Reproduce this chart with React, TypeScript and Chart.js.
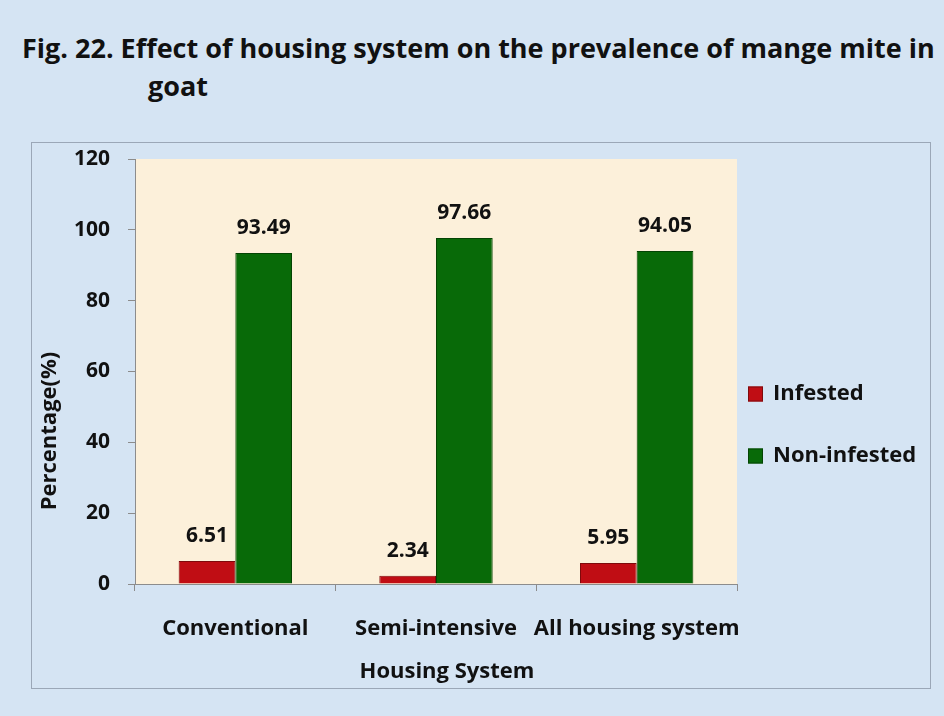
import React, { useEffect, useRef } from "react";
import { Chart, registerables } from "chart.js";

Chart.register(...registerables);

const categories = ["Conventional", "Semi-intensive", "All housing system"];
const infested = [6.51, 2.34, 5.95];
const nonInfested = [93.49, 97.66, 94.05];
const seriesNames = ["Infested", "Non-infested"];
const xTitle = "Housing System";
const yTitle = "Percentage(%)";

const FONT = "'Open Sans', Lato, sans-serif";

const plotBg = {
  id: "plotBg",
  beforeDraw(chart: any) {
    const { ctx, chartArea } = chart;
    ctx.save();
    ctx.fillStyle = "#fcf0da";
    ctx.fillRect(chartArea.left, chartArea.top, chartArea.right - chartArea.left, chartArea.bottom - chartArea.top);
    ctx.restore();
  },
};

const valueLabels = {
  id: "valueLabels",
  afterDatasetsDraw(chart: any) {
    const { ctx } = chart;
    ctx.save();
    ctx.font = `bold 21px ${FONT}`;
    ctx.fillStyle = "#111";
    ctx.textAlign = "center";
    ctx.textBaseline = "middle";
    chart.data.datasets.forEach((ds: any, i: number) => {
      const meta = chart.getDatasetMeta(i);
      meta.data.forEach((bar: any, j: number) => {
        ctx.fillText(Number(ds.data[j]).toFixed(2), bar.x, bar.y - 25);
      });
    });
    ctx.restore();
  },
};

const axisTitles = {
  id: "axisTitles",
  afterDraw(chart: any) {
    const { ctx, chartArea } = chart;
    ctx.save();
    ctx.font = `bold 22px ${FONT}`;
    ctx.fillStyle = "#111";
    ctx.textAlign = "center";
    ctx.textBaseline = "middle";
    ctx.fillText(xTitle, (chartArea.left + chartArea.right) / 2 + 11, chartArea.bottom + 88);
    ctx.translate(18, chartArea.bottom - 0.36 * (chartArea.bottom - chartArea.top));
    ctx.rotate(-Math.PI / 2);
    ctx.fillText(yTitle, 0, 0);
    ctx.restore();
  },
};

const sideLegend = {
  id: "sideLegend",
  afterDraw(chart: any) {
    const { ctx, chartArea } = chart;
    ctx.save();
    ctx.font = `bold 22px ${FONT}`;
    ctx.textAlign = "left";
    ctx.textBaseline = "middle";
    const n = chart.data.datasets.length;
    const spacing = 62;
    const cy = chart.height / 2 + 9;
    const boxX = chartArea.right + 11;
    chart.data.datasets.forEach((ds: any, i: number) => {
      const y = cy + (i - (n - 1) / 2) * spacing;
      ctx.fillStyle = ds.backgroundColor;
      ctx.fillRect(boxX, y - 7, 15, 15);
      ctx.strokeStyle = ds.borderColor;
      ctx.lineWidth = 1;
      ctx.strokeRect(boxX + 0.5, y - 6.5, 14, 14);
      ctx.fillStyle = "#111";
      ctx.fillText(ds.label, boxX + 25, y);
    });
    ctx.restore();
  },
};

export default function App() {
  const ref = useRef<HTMLCanvasElement>(null);
  useEffect(() => {
    const chart = new Chart(ref.current!, {
      type: "bar",
      data: {
        labels: categories,
        datasets: [
          {
            label: seriesNames[0],
            data: infested,
            backgroundColor: "#c00d14",
            borderColor: "#7e0a0c",
            borderWidth: 1,
            categoryPercentage: 0.565,
            barPercentage: 1,
          },
          {
            label: seriesNames[1],
            data: nonInfested,
            backgroundColor: "#086a08",
            borderColor: "#044404",
            borderWidth: 1,
            categoryPercentage: 0.565,
            barPercentage: 1,
          },
        ],
      },
      options: {
        responsive: false,
        animation: false,
        layout: { padding: { top: 16, right: 193, left: 0, bottom: 0 } },
        plugins: {
          legend: { display: false },
          tooltip: { enabled: false },
        },
        scales: {
          x: {
            offset: true,
            grid: { display: true, drawOnChartArea: false, offset: true, tickLength: 7, color: "#8c8c8c" },
            border: { color: "#8c8c8c" },
            ticks: {
              font: { family: FONT, size: 22, weight: "bold" },
              color: "#111",
              padding: 25,
              maxRotation: 0,
              autoSkip: false,
            },
            afterFit(scale: any) {
              scale.height = 104;
              scale.paddingLeft = 0;
              scale.paddingRight = 0;
            },
          },
          y: {
            min: 0,
            max: 120,
            ticks: { stepSize: 20, font: { family: FONT, size: 21, weight: "bold" }, color: "#111", padding: 18 },
            grid: { display: true, drawOnChartArea: false, tickLength: 7, color: "#8c8c8c" },
            border: { color: "#8c8c8c" },
            afterFit(scale: any) {
              scale.width = 103;
              scale.paddingTop = 0;
              scale.paddingBottom = 0;
            },
          },
        },
      },
      plugins: [plotBg, valueLabels, axisTitles, sideLegend],
    } as any);
    return () => chart.destroy();
  }, []);

  return (
    <div style={{ position: "absolute", left: 0, top: 0, width: 944, height: 716, background: "#d5e4f3", overflow: "hidden" }}>
      <div
        style={{
          position: "absolute",
          left: 22,
          top: 29,
          fontFamily: FONT,
          fontWeight: "bold",
          fontSize: 27,
          lineHeight: "38px",
          color: "#111",
          whiteSpace: "nowrap",
        }}
      >
        <div>Fig. 22. Effect of housing system on the prevalence of mange mite in</div>
        <div style={{ paddingLeft: 126 }}>goat</div>
      </div>
      <div
        style={{
          position: "absolute",
          left: 31,
          top: 142,
          width: 898,
          height: 545,
          border: "1px solid #9ba7b7",
        }}
      >
        <canvas ref={ref} width={898} height={545} style={{ display: "block" }} />
      </div>
    </div>
  );
}
